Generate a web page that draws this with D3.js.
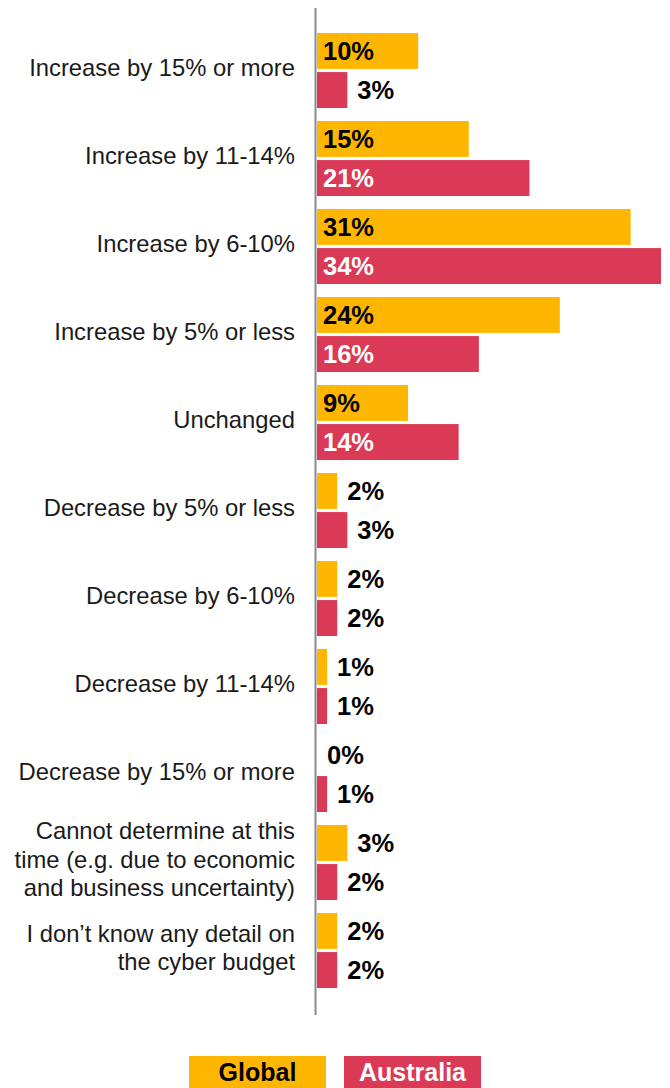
<!DOCTYPE html>
<html>
<head>
<meta charset="utf-8">
<script src="https://cdn.jsdelivr.net/npm/d3@7"></script>
<style>
  html, body { margin: 0; padding: 0; background: #fff; }
  svg { display: block; }
  text { font-family: Helvetica, Arial, "Liberation Sans", sans-serif; }
</style>
</head>
<body>
<svg id="chart" width="670" height="1088"></svg>
<script>
const categories = [
  "Increase by 15% or more",
  "Increase by 11-14%",
  "Increase by 6-10%",
  "Increase by 5% or less",
  "Unchanged",
  "Decrease by 5% or less",
  "Decrease by 6-10%",
  "Decrease by 11-14%",
  "Decrease by 15% or more",
  "Cannot determine at this\ntime (e.g. due to economic\nand business uncertainty)",
  "I don’t know any detail on\nthe cyber budget"
];
const seriesNames = ["Global", "Australia"];
const globalValues = [10, 15, 31, 24, 9, 2, 2, 1, 0, 3, 2];
const australiaValues = [3, 21, 34, 16, 14, 3, 2, 1, 1, 2, 2];

const colors = { Global: "#FFB600", Australia: "#DA3A56" };
const labelColors = { Global: "#000", Australia: "#fff" };

const svg = d3.select("#chart");

const y = d3.scaleBand().domain(categories).range([27, 27 + 88 * categories.length]).padding(0);
const yInner = d3.scaleBand().domain(seriesNames).range([6, 81]).paddingInner(0.08);
const x = d3.scaleLinear().domain([0, 34]).range([317, 661]);

const rows = categories.map((c, i) => ({
  cat: c,
  vals: [
    { s: "Global", v: globalValues[i] },
    { s: "Australia", v: australiaValues[i] }
  ]
}));

// category labels
const lineH = 28.5;
svg.append("g").selectAll("text").data(rows).join("text")
  .attr("text-anchor", "end")
  .attr("font-size", 23.8)
  .attr("fill", "#1a1a1a")
  .each(function(d) {
    const lines = d.cat.split("\n");
    const cy = y(d.cat) + 6 + 75 / 2 - 3;
    const t = d3.select(this);
    lines.forEach((ln, k) => {
      t.append("tspan")
        .attr("x", 295)
        .attr("y", cy + (k - (lines.length - 1) / 2) * lineH)
        .attr("dy", "0.35em")
        .text(ln);
    });
  });

// bars
const g = svg.append("g").selectAll("g").data(rows).join("g")
  .attr("transform", d => `translate(0,${y(d.cat)})`);

g.selectAll("rect").data(d => d.vals).join("rect")
  .attr("x", x(0))
  .attr("y", d => yInner(d.s))
  .attr("width", d => x(d.v) - x(0))
  .attr("height", yInner.bandwidth())
  .attr("fill", d => colors[d.s]);

g.selectAll("text").data(d => d.vals).join("text")
  .attr("font-size", 25.5)
  .attr("font-weight", "bold")
  .attr("x", d => d.v >= 9 ? x(0) + 6 : x(d.v) + 10)
  .attr("y", d => yInner(d.s) + yInner.bandwidth() / 2)
  .attr("dy", "0.36em")
  .attr("fill", d => d.v >= 9 ? labelColors[d.s] : "#000")
  .text(d => d.v + "%");

// axis line
svg.append("line")
  .attr("x1", 315.5).attr("x2", 315.5)
  .attr("y1", 8).attr("y2", 1015)
  .attr("stroke", "#8a8a8a")
  .attr("stroke-width", 2);

// legend
const legend = svg.append("g");
const legendX = { Global: 189, Australia: 344 };
seriesNames.forEach(s => {
  legend.append("rect")
    .attr("x", legendX[s]).attr("y", 1056)
    .attr("width", 137).attr("height", 32)
    .attr("fill", colors[s]);
  legend.append("text")
    .attr("x", legendX[s] + 137 / 2).attr("y", 1072)
    .attr("dy", "0.36em")
    .attr("text-anchor", "middle")
    .attr("font-size", 25)
    .attr("font-weight", "bold")
    .attr("fill", labelColors[s])
    .text(s);
});
</script>
</body>
</html>
